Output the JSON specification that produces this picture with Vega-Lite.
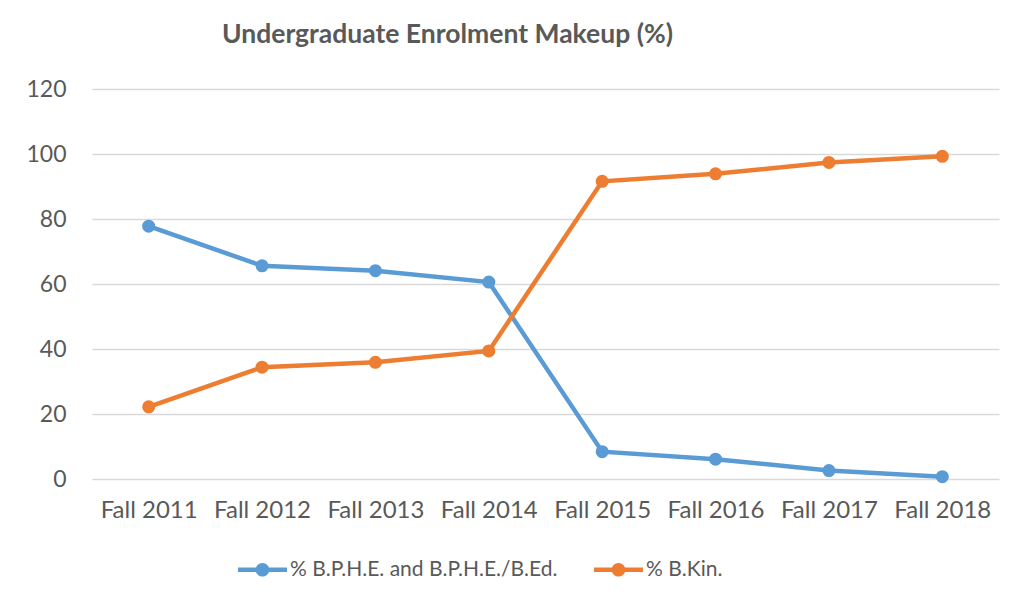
{
  "$schema": "https://vega.github.io/schema/vega-lite/v6.json",
  "autosize": {"type": "none"},
  "padding": {"left": 92, "top": 89, "right": 17, "bottom": 126},
  "width": 907,
  "height": 390,
  "background": "white",
  "title": {
    "text": "Undergraduate Enrolment Makeup (%)",
    "anchor": "start",
    "frame": "group",
    "dx": 130,
    "offset": 30,
    "font": "Lato",
    "fontSize": 26.5,
    "fontWeight": "bold",
    "color": "#595959"
  },
  "data": {
    "values": [
      {"term": "Fall 2011", "series": "% B.P.H.E. and B.P.H.E./B.Ed.", "pct": 77.8},
      {"term": "Fall 2012", "series": "% B.P.H.E. and B.P.H.E./B.Ed.", "pct": 65.6},
      {"term": "Fall 2013", "series": "% B.P.H.E. and B.P.H.E./B.Ed.", "pct": 64.1},
      {"term": "Fall 2014", "series": "% B.P.H.E. and B.P.H.E./B.Ed.", "pct": 60.6},
      {"term": "Fall 2015", "series": "% B.P.H.E. and B.P.H.E./B.Ed.", "pct": 8.4},
      {"term": "Fall 2016", "series": "% B.P.H.E. and B.P.H.E./B.Ed.", "pct": 6.1},
      {"term": "Fall 2017", "series": "% B.P.H.E. and B.P.H.E./B.Ed.", "pct": 2.6},
      {"term": "Fall 2018", "series": "% B.P.H.E. and B.P.H.E./B.Ed.", "pct": 0.7},
      {"term": "Fall 2011", "series": "% B.Kin.", "pct": 22.2},
      {"term": "Fall 2012", "series": "% B.Kin.", "pct": 34.4},
      {"term": "Fall 2013", "series": "% B.Kin.", "pct": 35.9},
      {"term": "Fall 2014", "series": "% B.Kin.", "pct": 39.4},
      {"term": "Fall 2015", "series": "% B.Kin.", "pct": 91.6},
      {"term": "Fall 2016", "series": "% B.Kin.", "pct": 93.9},
      {"term": "Fall 2017", "series": "% B.Kin.", "pct": 97.4},
      {"term": "Fall 2018", "series": "% B.Kin.", "pct": 99.3}
    ]
  },
  "mark": {"type": "line", "strokeWidth": 4.5, "point": {"filled": true, "size": 170, "opacity": 1}},
  "encoding": {
    "x": {
      "field": "term", "type": "ordinal",
      "scale": {"type": "point", "padding": 0.5},
      "axis": {"title": null, "labelAngle": 0, "domain": false, "ticks": false, "labelPadding": 19,
               "labelFont": "Lato", "labelFontSize": 24, "labelColor": "#595959"}
    },
    "y": {
      "field": "pct", "type": "quantitative",
      "scale": {"domain": [0, 120]},
      "axis": {"title": null, "values": [0, 20, 40, 60, 80, 100, 120], "domain": false, "ticks": false,
               "labelPadding": 26, "labelFont": "Lato", "labelFontSize": 23, "labelColor": "#595959",
               "gridColor": "#D9D9D9", "gridWidth": 1.5}
    },
    "color": {
      "field": "series", "type": "nominal",
      "sort": ["% B.P.H.E. and B.P.H.E./B.Ed.", "% B.Kin."],
      "scale": {"domain": ["% B.P.H.E. and B.P.H.E./B.Ed.", "% B.Kin."], "range": ["#5B9BD5", "#ED7D31"]},
      "legend": {
        "title": null,
        "orient": "none",
        "direction": "horizontal",
        "legendX": 146,
        "legendY": 456,
        "symbolType": "M-1,-0.09 H1 V0.09 H-1 Z M0.28,0 A0.28,0.28 0 1,1 -0.28,0 A0.28,0.28 0 1,1 0.28,0 Z",
        "symbolSize": 2400,
        "symbolStrokeWidth": 0,
        "labelFont": "Lato",
        "labelFontSize": 21,
        "labelLimit": 0,
        "labelColor": "#595959",
        "labelOffset": 3,
        "columnPadding": 36,
        "encode": {"symbols": {"update": {"fill": {"scale": "color", "field": "value"}, "opacity": {"value": 1}}}}
      }
    }
  },
  "config": {"view": {"stroke": null}}
}
